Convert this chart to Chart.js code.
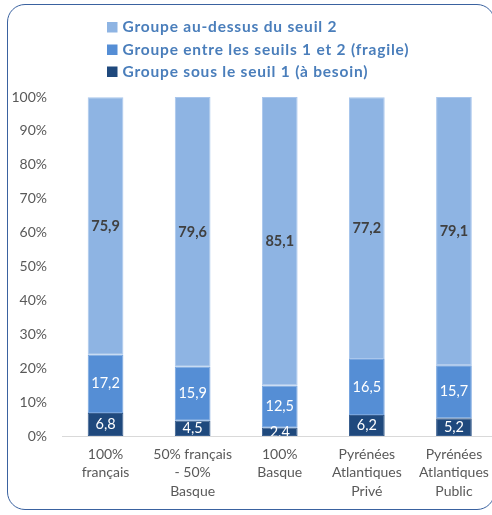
<!DOCTYPE html>
<html>
<head>
<meta charset="utf-8">
<script src="https://cdn.jsdelivr.net/npm/chart.js@4.4.0/dist/chart.umd.min.js"></script>
<style>
  html, body { margin: 0; padding: 0; background: #ffffff; overflow: hidden; }
  #wrap { position: relative; width: 492px; height: 515px; overflow: hidden; }
  #frame { position: absolute; left: 7px; top: 4px; width: 488px; height: 506px;
           border: 1.5px solid #3a62a0; border-radius: 18px; box-sizing: border-box; }
  #holder { position: absolute; left: 0; top: 0; width: 500px; height: 515px; }
</style>
</head>
<body>
<div id="wrap">
  <div id="frame"></div>
  <div id="holder"><canvas id="c" width="500" height="515"></canvas></div>
</div>
<script>
const categories = [
  ["100%", "français"],
  ["50% français", "- 50%", "Basque"],
  ["100%", "Basque"],
  ["Pyrénées", "Atlantiques", "Privé"],
  ["Pyrénées", "Atlantiques", "Public"]
];
const seriesNames = [
  "Groupe sous le seuil 1 (à besoin)",
  "Groupe entre les seuils 1 et 2 (fragile)",
  "Groupe au-dessus du seuil 2"
];
const belowThreshold1 = [6.8, 4.5, 2.4, 6.2, 5.2];
const betweenThresholds = [17.2, 15.9, 12.5, 16.5, 15.7];
const aboveThreshold2 = [75.9, 79.6, 85.1, 77.2, 79.1];
const yTickValues = [0, 10, 20, 30, 40, 50, 60, 70, 80, 90, 100];

const colors = ["#1f497d", "#558ed5", "#8eb4e3"];
const borderColors = ["#3a5f8f", "#77a5df", "#a9c6ec"];
const labelColors = ["#ffffff", "#ffffff", "#404040"];
const labelBold = [false, false, true];
const FONT = "Lato, 'Open Sans', sans-serif";

const valueLabels = {
  id: 'valueLabels',
  afterDatasetsDraw(chart) {
    const ctx = chart.ctx, a = chart.chartArea;
    ctx.save();
    ctx.beginPath();
    ctx.rect(a.left, a.top, a.right - a.left, a.bottom - a.top);
    ctx.clip();
    chart.data.datasets.forEach((ds, di) => {
      const meta = chart.getDatasetMeta(di);
      meta.data.forEach((el, i) => {
        const p = el.getProps(['x', 'y', 'base'], true);
        const cy = (p.y + p.base) / 2;
        ctx.font = (labelBold[di] ? 'bold ' : '') + '14.5px ' + FONT;
        ctx.fillStyle = labelColors[di];
        ctx.textAlign = 'center';
        ctx.textBaseline = 'middle';
        ctx.fillText(ds.data[i].toFixed(1).replace('.', ','), p.x, cy);
      });
    });
    ctx.restore();
  }
};

const stackedLegend = {
  id: 'stackedLegend',
  afterDraw(chart) {
    const ctx = chart.ctx;
    ctx.save();
    const order = [2, 1, 0];
    const ys = [27, 49.5, 71.5];
    order.forEach((di, row) => {
      ctx.fillStyle = colors[di];
      ctx.fillRect(107, ys[row] - 5, 10.5, 10.5);
      ctx.font = 'bold 15.5px ' + FONT;
      if ('letterSpacing' in ctx) ctx.letterSpacing = '0.8px';
      ctx.fillStyle = '#4a7ebb';
      ctx.textAlign = 'left';
      ctx.textBaseline = 'middle';
      ctx.fillText(chart.data.datasets[di].label, 122.5, ys[row]);
    });
    ctx.restore();
  }
};

const values = [belowThreshold1, betweenThresholds, aboveThreshold2];

new Chart(document.getElementById('c'), {
  type: 'bar',
  data: {
    labels: categories,
    datasets: values.map((v, i) => ({
      label: seriesNames[i],
      data: v,
      backgroundColor: colors[i],
      borderColor: borderColors[i],
      borderWidth: 1,
      borderSkipped: false,
      categoryPercentage: 1.0,
      barPercentage: 0.41
    }))
  },
  options: {
    responsive: false,
    animation: false,
    devicePixelRatio: 1,
    layout: { padding: { top: 97, right: 2.5, left: 0, bottom: 0 } },
    plugins: { legend: { display: false }, tooltip: { enabled: false } },
    scales: {
      x: {
        stacked: true,
        grid: { display: false, drawTicks: false },
        border: { display: true, color: '#d9d9d9', width: 1 },
        ticks: { color: '#595959', font: { family: FONT, size: 14, lineHeight: 1.32 }, padding: 9, maxRotation: 0, autoSkip: false },
        afterFit(scale) { scale.height = 79; }
      },
      y: {
        stacked: true,
        min: 0, max: 100,
        afterBuildTicks(scale) { scale.ticks = yTickValues.map(v => ({ value: v })); },
        grid: { display: false, drawTicks: false },
        border: { display: false },
        ticks: { color: '#595959', font: { family: FONT, size: 14 }, padding: 15,
                 callback: v => v + '%' },
        afterFit(scale) { scale.width = 62; }
      }
    }
  },
  plugins: [valueLabels, stackedLegend]
});
</script>
</body>
</html>
